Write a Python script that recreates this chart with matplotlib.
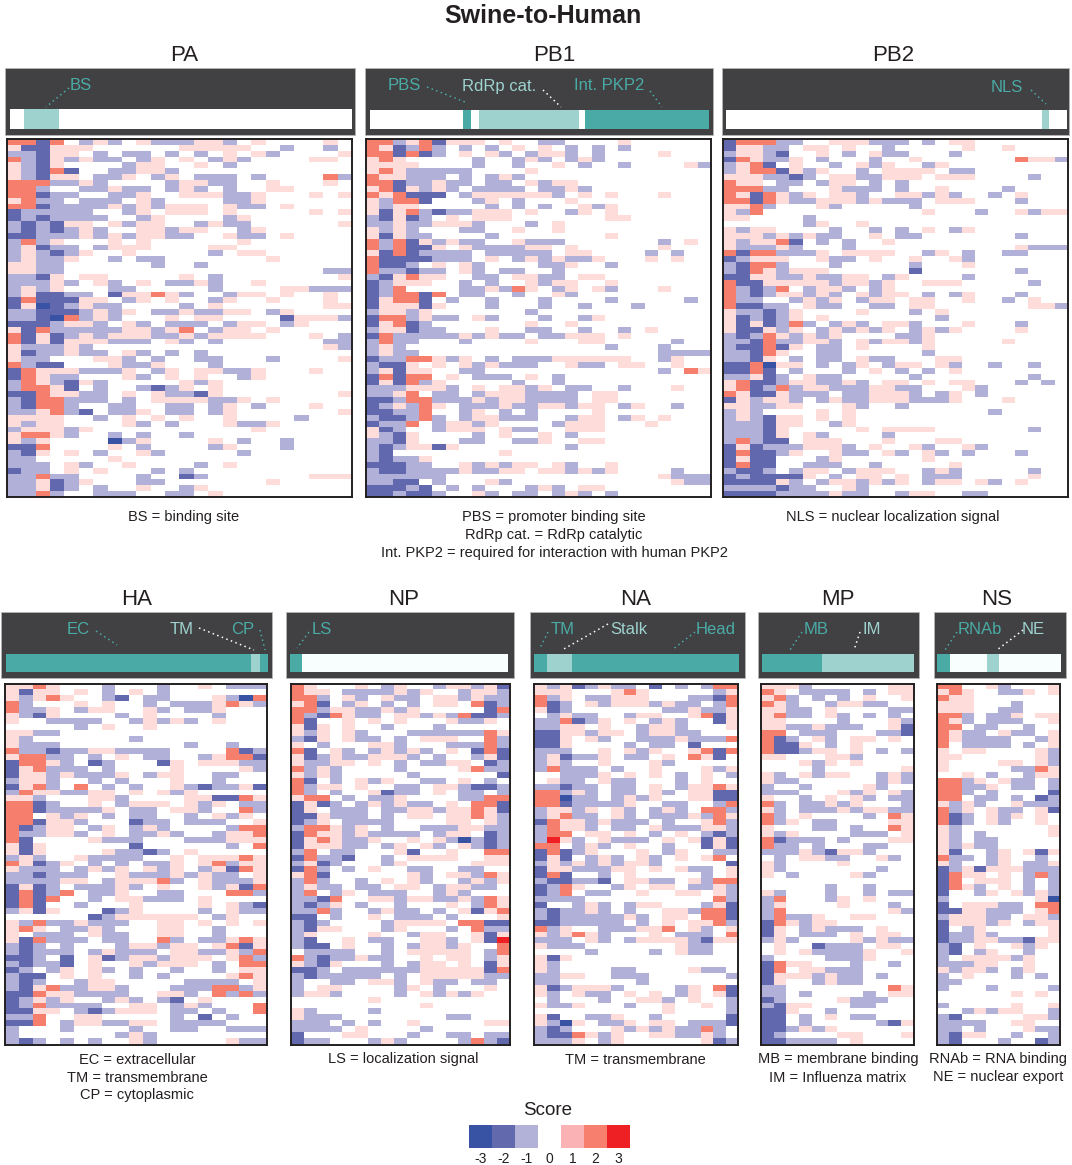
import numpy as np
import matplotlib
matplotlib.use("Agg")
import matplotlib.pyplot as plt
from matplotlib.colors import ListedColormap, BoundaryNorm
from matplotlib.patches import Rectangle

plt.rcParams['font.family'] = ['Liberation Sans', 'DejaVu Sans']

W, H = 1072, 1165
# Cell codes: D=-3 B=-2 b=-1 .=0 p=1 r=2 R=3
SCORE_CODES = {'D': -3, 'B': -2, 'b': -1, '.': 0, 'p': 1, 'r': 2, 'R': 3}

PA = """rrBr.bpb.pbbbppb.p....p.
pBBppp......ppppp..b..b.
bbBpp.b.bb.b.b.p.pb....p
rbBpbpbb.bp.p.bpb....pp.
pbBp....bpp..p.b........
pbBrB..bbppb............
pbBpp.bbp.bp.bbb.b....rb
rrrbbpb....bppbb..p...p.
rrb..bbpbb.bpb.b..pp....
rrBbb..bbp..pppbbp...p.p
prbb.bbb.pb....bbp......
rrBbbbbpbpbppp.pbb.p....
Bbbbbb..bp.ppp.p.....p.p
BbBbbbb..bp....bp.......
bBbBpp.pbpp..bpbb......p
bBbBbpb..ppbpp..bp......
BBbbbpbpbppbb..pbb.p....
brbp...p.p......p.......
bpBbb.bppp....pp........
bpbBbp..p.....b.pp......
bpbbp..b.bb.......p.....
ppbb......b..b..........
ppbb..................bb
bbBp.pp.....p.b........p
bbbpb.pb.p.bbpb..p......
bpbp...bb.....b....ppbbb
bpBBbb.Bpprpb..bpp.p..p.
BrBBBpp.bp.p..bp..p...p.
BpDBbpbb....b.p.......pp
bbBBBbpbp.bbpbbpp.bp....
bbBDrbpb...p.pp....Bpppb
BBBbppb.pb.bbb.bpp.bp...
pBrbbbbbppbpr.bpp.p.....
rBpBbpbpppbbpbpppp...p.b
rBpBpppbbb.pb.b.......bb
pbbbpb................pb
pBbbpbb.pb.b.b..........
pbb...ppb.b..bb...b....p
rbBB...pbbp...b.........
Brpppbbbp.bp.ppbbp...p..
Brpbb...pb.p.p..bp......
brpbBpb.....pbp.........
brrpB.b..bBbp.p.........
BBrppbb.p.pbbBp........p
bBrrbbb.b.ppppbbp.p.....
bBrrb..bb..bb.bp.b...p..
bbprbB.bbp.bb.bp.......p
pppp..b.p.p.p..p....b...
pbpp....pb.b...pbbp.....
bpppbp...........p......
prrpb..b.b..b...........
pbp....Dbp....p.b..b....
BBr....p.b....bp...b....
bBp.p.b..pb.....b.......
bb.....p................
bbb.pb..p....b.p........
Bbb.p.p...b.b...........
bbrbb....b..Bb.......ppp
bbpBbp...bb.......p.....
bbpBb.b..p..bp..........
bbrb..bbb..bb.p.........""".split("\n")

PB1 = """rrbprBppp.p..bb....p......
rpBbrb.b.b.p.p.b.b.b......
rrBrBb.p.pb.bppb.b....p...
prp.....b..bpb.bpb........
pppp....b..b..p.b..b....pb
prpbbbbb....p.............
rppbbb.b.bpb..............
rrBbbpbb.bb.pbpp..........
prBpbpb.bbbb.bbpb.........
rprBBB.bppppppb.p.p...p...
pbrrB...bp.b...p..........
pbpp.....b.b.b..pbp.......
pBprbBbbppp.p..bp.p.......
bBpBb.p.ppp.......pp......
bbpbbpppb...b.p...........
pbpb...bb..p..p...........
pBpbb....b........p.......
rbrBpbpbb..pbbb.......b.p.
rbrBBp.pbbbbpp.p......p...
pBrBbbbb.bbbbb.pp....b.b..
rBBBBbbb.p.bpbpbbp...p.p..
rBBb.p.pb....bbp..b.......
rbbBbb.pb.bb..b...........
bBprpp..bb.ppbb.pp........
Bbppp..b.b..pbpp..p.......
Bbr....bbpbrp.bp.pb...p...
BbrrBr.bb..b..pb..........
BprrB.b..b...b....b.....b.
BpppBp...b...b..b...b.....
bppbp.......b.............
Brrbpbb.pb...b..bp........
BprBb.......p..p..........
bppBbb...p..bb..b..b.p....
Brbbbbbpbpbb.bbppp.p......
brbb...b....p...pp.....b..
bpb...............b...b...
bpbb..................bbbb
Bbbrrpbp.b.bbbpppppp..bp..
bBBp.p.pbpbbb..pbb.pp..p..
bpBpp..bb.............b.rp
BrBrr.p.bbb.p.b...........
BpBrbp.....b..b...........
bbbpppb.p.ppbp.bb..b...p..
bbpr.bb.bpppbbbb.pp.......
BBbrrbbbpbppbbbb.pp.......
Bbpbrp.bbbpbbppbpp.bp..b..
BBbbr..bp.b.b....p........
bBBbrb.bppbbb..bpp.bp.p...
Bbbr.bppbp....bppp...p....
pBb..bppp.pbb..ppp........
pbBp....b.p..p.b..........
bbBp...bb..bbp..pp........
bBbppBp........b..........
bB........p...............
bBbbp.....................
BBBbb..pbpbpp.pb..p.......
bBBbbbbpbbpp.ppbpbp....b..
bbbbbb................pbbb
bbBB.b...pb............pbb
BBBbB.b.b...bpb.pp........
BBbBBb..pb.bb.bpb.b.......""".split("\n")

PB2 = """Brrrbb..pppbbb.b.pp.......
Bppbb.pp.p..b.....p..p....
bppbB..p.b.pbb...b........
Brpbbp.b...b..p.......rppb
bprB.p..b.pbp..bp.........
bprrBpbp..b.pppp.bb.......
pppbbBb.ppbbppp.ppp....b..
rpp.bb.bpp.b.b............
rrrbb...pbbb.b..p....b....
rpBrpbp.ppb..ppbpb..b.p...
rrBrpbbpppbpbbb.ppp...b...
pprb...pb.....b...........
pbr............p...b..pbpp
pp....b...................
......bp..p...............
pbpp....b..b.b.p.bp.......
pppbpbpbb..p.bb.......b...
pbpprB.b.b..p.............
pbbbpb...b............pbbb
rBrrbbbp.pppp..bp.b..bb...
Bbppp..pbb.p..p..pb.......
bBrrb...b.....b...p.......
bBrpbppp......B.......b...
BBppbbpbbpp.bp....b.......
rBBpppppbppbp..ppp.....b..
rbBbr.bppb.bp.............
rbBbppbpb.pbpp.b.bp...b...
rbb..bpbp.bpp.pp..p..b.p..
rBBbb.pbb..bb.pp.......ppb
pbbBbp....p...b.p.........
pBbBbp.p........b.........
pBpBbrb.bpb.ppb...p...b...
pBBpbp.bpbpbp.bpbp....p...
bBbrpbpbp....bbp..........
bbBrbbppb.pbppbp.....p....
bBBrBp.bb.p....p..........
bbBrp..bb......b..........
bbBp.b.bb.pbb...pp........
BBrDpp.b.bp.bpp.pb..b..b..
BBrB.b...b.p.b.b.p........
bbpBb.pbb.....b........b..
prBBbppbbpb.pp.p.pp...b.b.
prBbrbppbbbppbb...pb......
rpBBpbbb.bbpppb.bp.b......
Bpbppb.bpbbpppbbbp...p....
ppbbpp...pb..b............
bpb....p.p..........b.....
bpbBpp.p.p................
bbbBpp..bp................
bbbBp.....p.pppp.......b..
bbbBp.pb....b.............
brbBB.ppp...p...pp........
BpBbbbpppb.p..pb..pb......
BrBBbp..pbb.pb.pb.b...b...
BpBB...bp......p..........
BrBB..bbb..b.....p........
bBBb.bpp.bppp..bpb.....b..
BbBBBBp.b.pp.p.bbb.....p..
BBBBpb.bppbpbp.bpp.pb.p...
bbbbBbb..pb...............
BBBBbbbbpbb..bpp..bb......""".split("\n")

HA = """pprp...b...b..p.bbb
pBpp.p.b.p.b.......
pbprp..bB.bb...pbDr
rb...p.p..b.bbbprpb
rbbp.bpp..pb.bbp...
pbBp....b.p....b...
p..bbbb..bpbpb.p...
.....b.p..p........
ppbb...............
pb.......b.........
pbbb.........b..b..
rbbBbbppbbbb....rBb
prrbb.b.p.bb..bprrB
Brrpb.Bb...Bp.pppbb
Bprbbb.b....p....pb
Bppbpbbbp.bpp..bb..
bppb..b.b...p..b...
Bprb.r.b.b..pbBbbpB
brppbbpp.p.pbp.....
ppb...ppb....ppBBrp
rrBb..p.bppp.pbp.bb
rrBbbbbp.bb.ppb..rb
rr.pbp.b.bb..b.pbp.
rrBppb...Bbb.bbb..p
rBbpp.bp.bpb....brr
rbbppb.p.bbpb..bppr
rB....pbbb...bbbppp
pBp......B......b.r
pBp....pbbBb.p.....
bpb..pbbbb..p.ppprp
rpBbp.b.b.bbp.prbpp
pbbb.bpbp.pbp.bpBrp
bbBbbb..pbbbpbpbb.p
bbbbpp.bppprb.pbbbp
BpBb.bbbpb.p..pbpBr
BrBbr.bbp..bb...rrb
BrBr..b.ppbbb.p....
BrB..b...p....p.pbB
bpBp...Bbp....b.pbb
......Bbpppppp.bp..
pbrbbpbbb..pp.p.p.p
prp.bbpb...pp..b...
p.bbb.pbb..pp..b...
pBrbbb.bb..rb.bbprp
bBb.b...bppbpp.prBp
bBbbb.bpbbb.ppbbpbr
BBb.B.pBbppbppp.prb
bBbbB.p..pbppp.b.rr
Bb.bp.pb.b..b..b.pp
bBB.p.p..b.b....prp
bBb..bpp.....bbbb.p
bBprbbppb...bbbrrbp
BBrppbbbb..ppb.rbrb
Bbpbp..bpb.bB.p....
Bbrbbbb..pp.bpb...r
BBpp.bBbppp.bb.b..r
bbr..pp.....b.B.b..
BBr.bppbbpp.bbbb...
b...b....b..bb..bbb
b.......bpb........
bBb.b.b..pb.....pbb""".split("\n")

NP = """rp...p.bp..bppbpB
rpp.bbbbpbp..bppb
rrb.pb.pbb.ppbpbb
prB.bp.b.b.pp.rBb
rrbppbbpbp.....Br
rbBrpbb.ppbpbrBBb
rB..p.p.p...pbbp.
pBp.p..b...b.....
pbp.pb...bbbbbbrp
bBp.pbb.b.ppp..rb
p.b...ppb...bbbrb
rB.pb.bpbpb.p.BrB
pBbpbbpppb.b..bpB
pbbpp.p.b.bbpp.Bb
rbpb....b....prbb
pbpb.....b......B
rB.b.pbp..bb.p.b.
rbpp.p..bb.ppbBBb
rb.b..pBbb.p.bb.b
prr.b.bbp....bbrr
BpBb.bpbpbb.p.rrB
Bp.bbb.bbppbpprpB
BBpbbb.b.pp.pprpb
Bbp.bbbb....pp.pb
brrpbp.b..bbbppbb
Brppbpbbbb.bpp.Bb
Bprpbbp..p.pbDbBb
Bpppbb.bp.pb.pbBb
br.bb...pB..p..rr
BrbbB..b.pppp..pp
bpBb...bp.....ppp
Brb.b.p..bb..bb..
prB......pb.ppbrp
brb..b.p.pb..bpbp
bpbb.bb.pp.bppbb.
br.bp.bbb..bpb...
bbBr..ppbppbbpbrp
bBbp.b..b...p.brp
bbrb..bpbb.b.pBpr
BB.b..p.bbb.b...p
bBb....bpppp.rrBB
bBpp...bp...b.rbb
bp....p..bpp..pBp
bB..p.bb..ppb.pBR
bBB.p..b.bppbp..r
.bbbb..b.ppppp.br
rbBbbpbb..p.pp.bp
pbBp...b.bpp.p.Bp
BBb.bbbbbbpppppBr
bBbbbbb.b.pppppbb
b..bb.ppb.pbb.bb.
b.pp....bp.b...p.
bppb....b.pbpbp..
......p..........
..........p......
pb....b..........
pbbb........bb...
bbb.b.b..p.....pp
bbbb.p....b......
B...pp...b..bb.bb
Bbb...bpb....brbB""".split("\n")

NA = """pbpBbpbb.B.b.brr
ppp...prp.....bp
rbp.bbppp...bbBr
rBb.pbpppbpbb.br
pBb.......bbpbbp
.bpbb..bpp..prBp
bbrBbp.p.bpb..Bp
bbpp.p..bppb...p
BBppbpp.bppbb...
BBp.pb..bbbpbbbr
BBp....b.bb.B...
bbb..p.pbp..prBr
bpBbbp.bb.p.rpB.
bpb..p...pb.....
brbbb.b..p...pbp
..bbbp.p.p.b.p.b
.pbb.pbb...b.p..
bbBbb.bb.p.bpprp
rrbpb.bb.pb.ppBB
rrDbb.bpbp..ppBB
rrBbbbbp..bb..br
bppbp.pb.bpb.rrb
bprbb.pb.bbbpbrp
Brppbpbbb.b..prb
brppb.bb.pbbbppb
brr.pp.p.b.p.bBb
bRpb.pbbb.p.pBpB
rr.bpb.p..b..BpB
BrBbp...p.bp..bb
BpB.bpb.pb.p.pr.
bpbpbpbppb.....B
Bppbbbpp.p.pbb.p
BrB..b.p.....b.p
bBBbbB.ppbb.pbrr
Bbrp..bp.pp.bbpb
Bbr.bb..p..pp.pb
bbbb..........rb
B..bpb.bpp...bpB
bBbbpb.b..ppbrrB
bBbbbbbpb.pp.rrB
BBbbbbb.b.p.pprb
rbp..bbbppr.pb.p
pbprpb...p.bbb.r
bbb.pb.bppppbBpp
pbbb.......pbb..
....b....b.pbb..
pBp.............
pb..............
pb....bb....pbb.
bbpp..bbb......b
bb......b.......
pBbpppb....bp.rB
pb.pbb.p.p.bp.pB
.b...b..ppb.p..b
pbbp...b..p..p.b
..........p....b
pB..bbp..b.....B
pbDp.bbp.pp.bbbB
bBb...pbpbpbbrb.
bBBrpbp..ppbbpb.
bbbp.bp......pBb""".split("\n")

MP = """pppb......pp
rp.bbbb.b.pp
prb.b.b.p..p
rpb..bppbb..
ppbb.p....bb
prbb.pb.b.b.
pp....b...pb
ppbbpbbb..pB
rr.bbb...bbB
rBb.pb.pp.p.
rBBp.b.p....
rBBbpp.p.b.b
pp...ppb....
...pbp.p....
....b......p
pb.pbpp..bpb
pbb......bpb
b..b....pb..
bbb...pbp.pb
p..b.p.pb.bb
rb.bbpbp...b
pb.bbbpbppbb
rb.p....b.rp
rbp.bb....pp
p...bb.b..rp
pbp....bbb.p
rBbbb.b...pp
rbb.b...bb..
bbbpbBppb...
.b.ppbb..pb.
pb....p.....
pb.......b..
p.b....pb...
............
.....b..b...
pb...b..b.bb
br...bp.p...
bp....p...b.
br........pb
brbbp..pp...
Brpbpp......
Bp.bpbbb.p..
Bp.bbb.p.pp.
bpb....pbpbb
.p..Bbbb.pp.
.p.pbbbbp..p
b....bbbp...
Brpp...b..b.
Br.ppbbb....
Bpppbpbb.b..
Bp..bpbb....
bb........rp
bb.b....b.pp
Bb....pbbb..
bBpp...bb...
BBp..b......
BB.b.p.bb...
BB.b.....bBp
BBbpbp......
Bb....pp...p
BBbbbb.p....""".split("\n")

NS = """rr..pb...p
prp..bbp.p
rpp.......
ppp...b...
ppp..bb...
rrb.bbp.pp
rpb.bbb..p
rr.bb..b..
rpbb.pbb.p
rpbbbb..bp
r.bbbb.b.p
p.pp....pb
pp......pb
p....pp.pb
p.....bbrp
..p.b..bpp
rrbp.pbb.b
rrbbp.bb.b
rrb.b....B
rr.bb.b.Bb
pbpb..pbbb
rbp.pbb.pB
rBb.pbp.p.
rBb.pb..p.
pb.......p
pb.b.....p
pb.bb.....
pbpbb.....
pB..bp.pBp
rbb.bp..b.
pb..bp.bbp
BbpBpppbbb
Brpp.p.brb
Br.ppp.b.b
Brpb.p.b.b
B..bp.pbpb
b.......pD
B.pppbb.rr
BBppbbb.pr
bpppbb.ppb
Bpppbp.bpp
B.bp.....p
Bbbpb....p
BbbppbbBpp
bB.p..pbp.
bB.bp..b..
b.ppppbp..
bbbpp..p..
pbppb.bp..
b.p...b.b.
bb........
b...b....b
......p.p.
..........
b.....p..p
..bpbpp..b
bB.....ppb
bbbb..pp..
bb.b...pbb
bBpp..b..b
bB...b..Bb""".split("\n")

SCORE_COLORS = ['#3953a4', '#6168ae', '#b1b0d8', '#ffffff', '#fddcd9', '#f67e6c', '#ee2024']
LEGEND_COLORS = ['#3953a4', '#6369ad', '#b2b1d8', '#ffffff', '#fab2b5', '#f67f6d', '#ee2024']
LEGEND_TICKS = [-3, -2, -1, 0, 1, 2, 3]

TEAL = '#4aaba6'
LIGHT = '#9dd2cf'

# Domains along each protein, in percent of its length: start, end, shade
PA_DOMAINS = [(4.1, 14.3, LIGHT)]
PB1_DOMAINS = [(27.4, 29.8, TEAL), (32.2, 61.7, LIGHT), (63.4, 100, TEAL)]
PB2_DOMAINS = [(92.7, 94.7, LIGHT)]
HA_DOMAINS = [(0, 93.5, TEAL), (93.5, 96.9, LIGHT), (96.9, 100, TEAL)]
NP_DOMAINS = [(0, 5.5, TEAL)]
NA_DOMAINS = [(0, 6.3, TEAL), (6.3, 18.5, LIGHT), (18.5, 100, TEAL)]
MP_DOMAINS = [(0, 39.5, TEAL), (39.5, 100, LIGHT)]
NS_DOMAINS = [(0, 10.5, TEAL), (40.3, 50, LIGHT)]

# name, matrix, domains, heat box (l, r, t, b), header box (l, r, t, b), bar (l, r, t, b), title x
panels = [
    ('PA', PA, PA_DOMAINS, (7.3, 351.7, 139.3, 496.7), (5, 355, 68, 135), (10, 352, 109, 129), 184),
    ('PB1', PB1, PB1_DOMAINS, (366, 710.7, 139.3, 496.7), (365, 713, 68, 135), (370, 709, 110, 129), 554),
    ('PB2', PB2, PB2_DOMAINS, (723.3, 1067.7, 139.3, 496.7), (722, 1069, 68, 135), (726, 1067, 110, 129), 893),
    ('HA', HA, HA_DOMAINS, (5.3, 266.7, 684, 1044.5), (1, 272, 612, 678), (6, 268, 654, 672), 137),
    ('NP', NP, NP_DOMAINS, (291, 510, 684, 1044.5), (286, 514, 612, 678), (290, 508, 654, 672), 404),
    ('NA', NA, NA_DOMAINS, (533.7, 738, 684, 1044.5), (530, 745, 612, 678), (534, 739, 654, 672), 636),
    ('MP', MP, MP_DOMAINS, (761.3, 914, 684, 1044.5), (758, 919, 612, 678), (762, 914, 654, 672), 838),
    ('NS', NS, NS_DOMAINS, (937.3, 1060.3, 684, 1044.5), (934, 1066, 612, 678), (937, 1061, 654, 672), 997),
]

# text, x, y, colour, leader start, leader end
labels = [
    ('BS', 81, 86, TEAL, (69, 88), (46, 107)),
    ('PBS', 404, 86, TEAL, (427, 87), (465, 102)),
    ('RdRp cat.', 499, 86, LIGHT, (543, 90), (561, 107)),
    ('Int. PKP2', 609, 86, TEAL, (650, 91), (662, 107)),
    ('NLS', 1007, 88, TEAL, (1031, 90), (1046, 104)),
    ('EC', 78, 630, TEAL, (96, 631), (117, 645)),
    ('TM', 182, 629, LIGHT, (199, 628), (254, 650)),
    ('CP', 243, 629, TEAL, (260, 630), (265, 650)),
    ('LS', 322, 630, TEAL, (309, 632), (297, 648)),
    ('TM', 563, 629, TEAL, (548, 632), (540, 648)),
    ('Stalk', 629, 629, LIGHT, (608, 624), (562, 650)),
    ('Head', 716, 629, TEAL, (695, 632), (672, 650)),
    ('MB', 816, 630, TEAL, (802, 632), (790, 650)),
    ('IM', 872, 630, LIGHT, (860, 632), (854, 650)),
    ('RNAb', 980, 630, TEAL, (957, 632), (945, 650)),
    ('NE', 1033, 629, LIGHT, (1023, 630), (997, 650)),
]

captions = [
    (184, 516.5, ['BS = binding site']),
    (554, 516.5, ['PBS = promoter binding site', 'RdRp cat. = RdRp catalytic',
                  'Int. PKP2 = required for interaction with human PKP2']),
    (893, 516.5, ['NLS = nuclear localization signal']),
    (137, 1059.5, ['EC = extracellular', 'TM = transmembrane', 'CP = cytoplasmic']),
    (403, 1059.5, ['LS = localization signal']),
    (635, 1059.5, ['TM = transmembrane']),
    (838, 1059.5, ['MB = membrane binding', 'IM = Influenza matrix']),
    (998, 1059.5, ['RNAb = RNA binding', 'NE = nuclear export']),
]


def to_matrix(rows):
    n = max(len(r) for r in rows)
    return np.array([[SCORE_CODES[c] for c in r.ljust(n, '.')] for r in rows])


fig = plt.figure(figsize=(W / 100, H / 100), dpi=100, facecolor='white')


def px_axes(l, r, t, b, **kw):
    return fig.add_axes([l / W, 1 - b / H, (r - l) / W, (b - t) / H], **kw)


page = px_axes(0, W, 0, H)
page.set_xlim(0, W)
page.set_ylim(H, 0)
page.axis('off')

page.text(543, 16, 'Swine-to-Human', ha='center', va='center', fontsize=18, fontweight='bold', color='#231f20')

cmap = ListedColormap(SCORE_COLORS)
norm = BoundaryNorm(np.arange(-3.5, 4.5), cmap.N)

for name, rows, domains, heat, head, bar, tx in panels:
    ty = 55.5 if heat[2] < 300 else 599.5
    page.text(tx, ty, name, ha='center', va='center', fontsize=16, color='#231f20')
    page.add_patch(Rectangle((head[0], head[2]), head[1] - head[0], head[3] - head[2],
                             facecolor='#414042', edgecolor='#b5b5b5', linewidth=0.6))
    ax = px_axes(bar[0], bar[1], bar[2], bar[3], zorder=2)
    ax.set_xlim(0, 100)
    ax.set_ylim(0, 1)
    ax.set_xticks([])
    ax.set_yticks([])
    ax.set_facecolor('#ffffff' if heat[2] < 300 else '#f8fdfd')
    for s, e, c in domains:
        ax.axvspan(s, e, color=c, linewidth=0)
    for sp in ax.spines.values():
        sp.set_visible(False)

    hm = px_axes(*heat, zorder=2)
    m = to_matrix(rows)
    hm.imshow(m, cmap=cmap, norm=norm, aspect='auto', interpolation='nearest')
    hm.set_xticks([])
    hm.set_yticks([])
    for sp in hm.spines.values():
        sp.set_linewidth(1.4)
        sp.set_color('#231f20')

for txt, x, y, col, a, b in labels:
    page.text(x, y, txt, ha='center', va='center', fontsize=12, color=col, zorder=3)
    lc = 'white' if col == LIGHT else col
    page.plot([a[0], b[0]], [a[1], b[1]], linestyle=(0, (1, 2.2)), linewidth=1.1, color=lc, zorder=3)

for x, y, lines in captions:
    for i, line in enumerate(lines):
        page.text(x, y + 18 * i, line, ha='center', va='center', fontsize=10.5, color='#231f20')

page.text(548, 1110.5, 'Score', ha='center', va='center', fontsize=13.5, color='#231f20')
leg = px_axes(469, 630, 1125, 1148, zorder=2)
leg.imshow(np.array([LEGEND_TICKS]), cmap=ListedColormap(LEGEND_COLORS), aspect='auto',
           interpolation='nearest', norm=BoundaryNorm(np.arange(-3.5, 4.5), 7))
leg.set_xticks([])
leg.set_yticks([])
for sp in leg.spines.values():
    sp.set_visible(False)
for i, t in enumerate(LEGEND_TICKS):
    page.text(469 + 23 * (i + 0.5), 1159, str(t), ha='center', va='center', fontsize=10, color='#231f20')

fig.savefig('out.png', dpi=100, facecolor='white')
